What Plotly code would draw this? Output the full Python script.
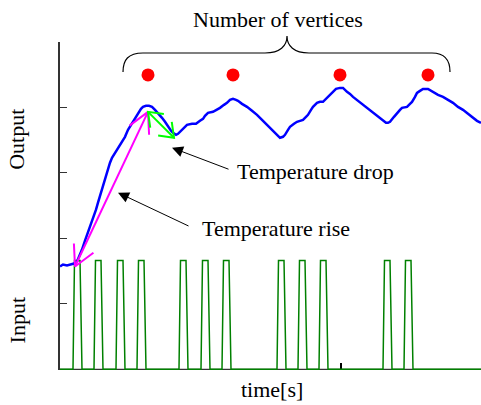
import numpy as np
import plotly.graph_objects as go

# ---------------- data ----------------
# measured output (time in s, output in a.u.)
time_out = [0.0, 0.3, 0.7, 1.0, 1.4, 1.7, 2.0, 2.2, 2.5, 2.8, 3.1, 3.3, 3.6, 3.8, 4.0, 4.2,
            4.5, 4.8, 5.0, 5.2, 5.5, 5.7, 6.0, 6.3, 6.5, 6.8, 7.1, 7.3, 7.6, 7.8, 8.1, 8.3,
            8.6, 8.9, 9.2, 9.5, 9.7, 10.0, 10.2, 10.5, 10.8, 11.1, 11.3, 11.6, 11.8, 12.0,
            12.4, 12.7, 13.2, 13.6, 14.0, 14.3, 14.5, 14.8, 15.3, 15.7, 16.0, 16.4, 16.7,
            17.0, 17.3, 17.6, 17.8, 18.2, 18.7, 19.2, 19.7, 20.2, 20.7, 21.1, 21.5, 21.8,
            22.0, 22.3, 22.5, 22.8, 23.0, 23.4, 23.7, 24.0, 24.3, 24.6, 24.8, 25.1, 25.3,
            25.7, 26.0, 26.3, 26.6, 27.0, 27.3, 27.6, 28.0, 28.3, 28.7, 29.0, 29.3, 29.8,
            30.3, 30.8, 31.3, 31.8, 32.2, 32.6, 32.8, 33.0, 33.4, 33.7, 34.0, 34.2, 34.5,
            34.7, 35.0, 35.2, 35.5, 35.7, 36.0, 36.3, 36.8, 37.1, 37.3, 37.8, 38.3, 38.8,
            39.3, 39.8, 40.3, 40.8, 41.3, 41.7, 42.1]
output = [1.03, 1.05, 1.04, 1.05, 1.06, 1.08, 1.15, 1.20, 1.29, 1.37, 1.45, 1.50, 1.60, 1.67,
          1.74, 1.80, 1.92, 2.02, 2.07, 2.12, 2.17, 2.20, 2.25, 2.30, 2.33, 2.40, 2.45, 2.48,
          2.53, 2.57, 2.61, 2.63, 2.64, 2.64, 2.63, 2.60, 2.58, 2.55, 2.52, 2.48, 2.43, 2.39,
          2.37, 2.35, 2.36, 2.38, 2.42, 2.45, 2.46, 2.46, 2.49, 2.51, 2.54, 2.57, 2.58, 2.60,
          2.62, 2.65, 2.67, 2.70, 2.71, 2.70, 2.69, 2.66, 2.63, 2.59, 2.55, 2.50, 2.45, 2.41,
          2.37, 2.34, 2.32, 2.33, 2.35, 2.40, 2.43, 2.46, 2.48, 2.49, 2.50, 2.53, 2.55, 2.60,
          2.63, 2.67, 2.68, 2.68, 2.71, 2.75, 2.79, 2.81, 2.82, 2.82, 2.78, 2.76, 2.73, 2.69,
          2.65, 2.61, 2.57, 2.53, 2.50, 2.47, 2.47, 2.48, 2.53, 2.57, 2.60, 2.62, 2.63, 2.63,
          2.66, 2.68, 2.73, 2.77, 2.79, 2.81, 2.81, 2.79, 2.78, 2.75, 2.73, 2.70, 2.67, 2.63,
          2.60, 2.56, 2.52, 2.49, 2.47]

# vertices (red dots)
vertex_t = [8.8, 17.3, 28.0, 36.8]
vertex_v = [2.95, 2.95, 2.95, 2.95]

# input pulses: start times, level and timing of each pulse
pulse_start = [1.3, 3.4, 5.6, 7.7, 11.9, 14.1, 16.2, 21.7, 23.8, 25.9, 32.3, 34.4]
pulse_level = 1.09
pulse_rise, pulse_on, pulse_fall = 0.15, 0.55, 0.2

# temperature rise / drop double arrows (data endpoints)
rise_t = [1.5, 8.8]
rise_v = [1.03, 2.58]
drop_t = [8.8, 11.4]
drop_v = [2.58, 2.32]

# annotation arrows (head position in data)
drop_head = (11.2, 2.22)
rise_head = (5.8, 1.77)

time_tick = [28.1]
out_ticks = [0.656, 1.312, 1.968, 2.624, 3.28]

# ---------------- geometry helpers ----------------
XR = (0.0, 42.1)
YR = (-0.007, 3.28)
W, H = 481, 405
ML, MR, MT, MB = 60, 0, 42, 35
PW, PH = W - ML - MR, H - MT - MB
sx = PW / (XR[1] - XR[0])
sy = PH / (YR[1] - YR[0])


def px(t):
    return (t - XR[0]) / (XR[1] - XR[0])


def py(v):
    return (v - YR[0]) / (YR[1] - YR[0])


def double_arrow(t, v, length, ang):
    xs, ys = [t[0], t[1], None], [v[0], v[1], None]
    for tip, tail in (((t[0], v[0]), (t[1], v[1])), ((t[1], v[1]), (t[0], v[0]))):
        a = np.arctan2((tail[1] - tip[1]) * sy, (tail[0] - tip[0]) * sx)
        for s in (1, -1):
            b = a + s * np.radians(ang)
            xs += [tip[0] + length * np.cos(b) / sx, tip[0]]
            ys += [tip[1] + length * np.sin(b) / sy, tip[1]]
        xs.append(None)
        ys.append(None)
    return xs, ys


# pulse train
pt, pv = [XR[0]], [0.0]
for s in pulse_start:
    pt += [s, s + pulse_rise, s + pulse_rise + pulse_on, s + pulse_rise + pulse_on + pulse_fall]
    pv += [0.0, pulse_level, pulse_level, 0.0]
pt.append(XR[1])
pv.append(0.0)

fig = go.Figure()

# input
fig.add_trace(go.Scatter(x=pt, y=pv, mode="lines",
                         line=dict(color="#008000", width=1.5), hoverinfo="skip"))
# output
fig.add_trace(go.Scatter(x=time_out, y=output, mode="lines",
                         line=dict(color="#0000FF", width=2.5), hoverinfo="skip"))
# rise arrow (magenta)
mx, my = double_arrow(rise_t, rise_v, 23, 28)
fig.add_trace(go.Scatter(x=mx, y=my, mode="lines",
                         line=dict(color="#FF00FF", width=2), hoverinfo="skip"))
# drop arrow (green)
gx, gy = double_arrow(drop_t, drop_v, 16, 37)
fig.add_trace(go.Scatter(x=gx, y=gy, mode="lines",
                         line=dict(color="#00FF00", width=2), hoverinfo="skip"))
# vertices
fig.add_trace(go.Scatter(x=vertex_t, y=vertex_v, mode="markers",
                         marker=dict(color="#FF0000", size=13, line=dict(width=0)),
                         hoverinfo="skip"))

FONT = dict(family="Liberation Serif, Times New Roman, serif", size=22, color="black")

# brace over the vertices
bl, br, btip = 6.3, 39.0, 22.7
b0, b1, b2 = 2.98, 3.17, 3.34
def P(t, v):
    return f"{px(t):.5f},{py(v):.5f}"
brace = (f"M {P(bl, b0)} C {P(bl, b0 + 0.12)} {P(bl + 0.5, b1)} {P(bl + 2.0, b1)} "
         f"L {P(btip - 2.2, b1)} C {P(btip - 0.7, b1)} {P(btip, b1 + 0.07)} {P(btip, b2)} "
         f"C {P(btip, b1 + 0.07)} {P(btip + 0.7, b1)} {P(btip + 2.2, b1)} "
         f"L {P(br - 1.8, b1)} C {P(br - 0.5, b1)} {P(br, b0 + 0.12)} {P(br, b0)}")

shapes = [
    dict(type="path", path=brace, xref="paper", yref="paper",
         line=dict(color="black", width=1.2)),
    dict(type="line", xref="paper", yref="paper", x0=0, x1=1, y0=py(0), y1=py(0),
         line=dict(color="black", width=1), layer="below"),
]

annotations = [
    dict(x=drop_head[0], y=drop_head[1], xref="x", yref="y", ax=58, ay=22,
         text="", showarrow=True, arrowhead=2, arrowsize=2.2, arrowwidth=1,
         arrowcolor="black"),
    dict(x=rise_head[0], y=rise_head[1], xref="x", yref="y", ax=72, ay=34,
         text="", showarrow=True, arrowhead=2, arrowsize=2.2, arrowwidth=1,
         arrowcolor="black"),
    dict(x=17.5, y=1.98, xref="x", yref="y", text="Temperature drop", showarrow=False,
         xanchor="left", yanchor="middle", font=FONT),
    dict(x=14.0, y=1.41, xref="x", yref="y", text="Temperature rise", showarrow=False,
         xanchor="left", yanchor="middle", font=FONT),
    dict(x=px(21.75), y=py(3.51), xref="paper", yref="paper", text="Number of vertices",
         showarrow=False, xanchor="center", yanchor="middle", font=FONT),
    dict(x=px(21.2), y=py(-0.20), xref="paper", yref="paper", text="time[s]",
         showarrow=False, xanchor="center", yanchor="middle", font=FONT),
    dict(x=px(-4.3), y=py(2.30), xref="paper", yref="paper", text="Output",
         showarrow=False, xanchor="center", yanchor="middle", textangle=-90, font=FONT),
    dict(x=px(-4.3), y=py(0.49), xref="paper", yref="paper", text="Input",
         showarrow=False, xanchor="center", yanchor="middle", textangle=-90, font=FONT),
]

fig.update_layout(
    width=W, height=H,
    margin=dict(l=ML, r=MR, t=MT, b=MB, pad=0),
    paper_bgcolor="white", plot_bgcolor="white",
    showlegend=False,
    shapes=shapes,
    annotations=annotations,
    xaxis=dict(range=list(XR), showgrid=False, zeroline=False, showline=False,
               tickvals=time_tick, ticks="inside", ticklen=7, tickwidth=1.5,
               tickcolor="black", showticklabels=False, layer="below traces"),
    yaxis=dict(range=list(YR), showgrid=False, zeroline=False, showline=True,
               linecolor="#333333", linewidth=1.5, tickvals=out_ticks, ticks="inside",
               ticklen=7, tickwidth=1.2, tickcolor="#333333", showticklabels=False),
)

fig.write_html("out.html")
